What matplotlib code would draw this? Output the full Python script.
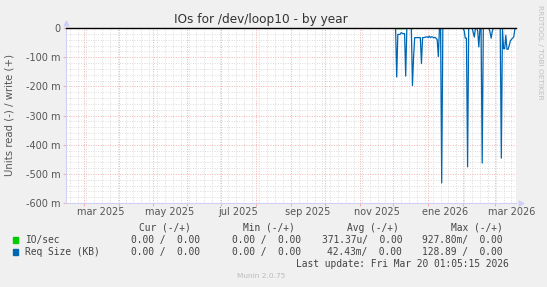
import matplotlib
matplotlib.use('Agg')
import matplotlib.pyplot as plt
import matplotlib.dates as mdates
from matplotlib.ticker import FixedLocator, FuncFormatter
from datetime import datetime, timedelta

# data window (munin "by year" = last 400 days)
t_end = datetime(2026, 3, 20, 1, 5, 15)
t_start = t_end - timedelta(days=400)

# daily samples starting 2025-12-01 (values in milli-units, read side => negative)
series_start = datetime(2025, 12, 1)
req_size = [0, 0, 0, -168, -22, -22, -22, -16, -18, -20,
            -19, -165, 0, 0, 0, 0, 0, -197, -100, -33,
            -33, -33, -33, -33, -33, -122, -33, -33, -32, -31,
            -30, -33, -28, -33, -30, -31, -34, -32, -35, -40,
            -98, 0, 0, -531, 0, 0, 0, 0, 0, 0,
            0, 0, 0, 0, 0, 0, 0, 0, 0, 0,
            0, 0, 0, -10, -35, -35, -476, 0, 0, 0,
            0, -15, -31, 0, 0, -10, -65, 0, 0, -463,
            0, 0, 0, 0, 0, 0, -15, -35, -10, 0,
            0, 0, 0, 0, 0, 0, -446, 0, -71, -71,
            -25, -73, -73, -60, -45, -39, -35, -31, -5, 0]
io_sec = [0, 0, 0, -2, -2, -2, -2, -2, -2, -2,
          -2, 0, 0, 0, 0, 0, -2, -2, 0, 0]

month_labels = ['mar 2025', 'may 2025', 'jul 2025', 'sep 2025',
                'nov 2025', 'ene 2026', 'mar 2026']
label_dates = [datetime(2025, 3, 16), datetime(2025, 5, 16), datetime(2025, 7, 16),
               datetime(2025, 9, 16), datetime(2025, 11, 16), datetime(2026, 1, 16),
               datetime(2026, 3, 16)]

legend_names = ['IO/sec', 'Req Size (KB)']
legend_cur = ['0.00 /  0.00', '0.00 /  0.00']
legend_min = ['0.00 /  0.00', '0.00 /  0.00']
legend_avg = ['371.37u/  0.00', '42.43m/  0.00']
legend_max = ['927.80m/  0.00', '128.89 /  0.00']

GREEN = '#00CC00'
BLUE = '#0066B3'
BG = '#F0F0F0'
W, H = 547, 287

fig = plt.figure(figsize=(W / 100, H / 100), dpi=100, facecolor=BG)
ax = fig.add_axes([66 / W, (H - 203) / H, 450 / W, 175 / H])
ax.set_facecolor('white')

req_dates = [series_start + timedelta(days=i) for i in range(len(req_size))]
io_dates = [series_start + timedelta(days=i) for i in range(len(io_sec))]
ax.plot(io_dates, io_sec, color=GREEN, lw=1.0, zorder=3)
ax.plot(req_dates, req_size, color=BLUE, lw=0.9, zorder=4)
ax.axhline(0, color='black', lw=1.0, zorder=5, clip_on=False)

ax.set_xlim(t_start, t_end)
ax.set_ylim(-600, 0)

# grid: minor weekly / 20m gray dotted, major monthly / 100m red dotted
month_starts = []
d = datetime(2025, 3, 1)
while d < t_end:
    month_starts.append(d)
    d = datetime(d.year + (d.month == 12), d.month % 12 + 1, 1)
ax.xaxis.set_major_locator(FixedLocator(mdates.date2num(month_starts)))
ax.xaxis.set_minor_locator(mdates.WeekdayLocator(byweekday=mdates.MO))
ax.yaxis.set_major_locator(FixedLocator(range(-600, 1, 100)))
ax.yaxis.set_minor_locator(FixedLocator(range(-600, 1, 20)))
ax.grid(which='minor', color='#DCDCDC', lw=0.7, linestyle=(0, (1, 1.5)))
ax.grid(which='major', color='#F4B0B0', lw=0.7, linestyle=(0, (1, 1.5)))
ax.set_axisbelow(True)

ax.set_xticklabels([])
ax.tick_params(axis='x', which='major', length=2, color='#F4B0B0')
ax.tick_params(axis='both', which='minor', length=0)
ax.tick_params(axis='y', which='major', length=2, color='#F4B0B0',
               labelsize=7, labelcolor='#555555', pad=2)
ax.yaxis.set_major_formatter(FuncFormatter(lambda v, p: '0' if v == 0 else '%d m' % v))

for lab, dt in zip(month_labels, label_dates):
    ax.text(mdates.date2num(dt), -0.05, lab, transform=ax.get_xaxis_transform(),
            ha='center', va='center', fontsize=7, color='#555555')

for s in ['top', 'right']:
    ax.spines[s].set_visible(False)
for s in ['left', 'bottom']:
    ax.spines[s].set_color('#D0D0F4')
    ax.spines[s].set_linewidth(0.8)
ax.plot([0], [1.03], marker='^', color='#D0D0F4', ms=3.5, transform=ax.transAxes, clip_on=False)
ax.plot([1.01], [0], marker='>', color='#D0D0F4', ms=3.5, transform=ax.transAxes, clip_on=False)

fig.text(261 / W, 1 - 19 / H, 'IOs for /dev/loop10 - by year', ha='center', va='center',
         fontsize=8.7, color='#333333')
fig.text(10 / W, 1 - 115 / H, 'Units read (-) / write (+)', rotation=90,
         ha='center', va='center', fontsize=7.3, color='#555555')
fig.text(540 / W, 1 - 5 / H, 'RRDTOOL / TOBI OETIKER', rotation=270,
         ha='center', va='top', fontsize=5.3, color='#C0C0C0')

mono = 'DejaVu Sans Mono'
fs = 6.9
tc = '#444444'
def ftext(x, y, s, ha='right', **kw):
    fig.text(x / W, 1 - y / H, s, ha=ha, va='center', family=mono, fontsize=fs, color=tc, **kw)

ftext(191, 228, 'Cur (-/+)')
ftext(295, 228, 'Min (-/+)')
ftext(399, 228, 'Avg (-/+)')
ftext(503, 228, 'Max (-/+)')
for i, (name, col) in enumerate(zip(legend_names, [GREEN, BLUE])):
    y = 239.5 + i * 12.5
    fig.patches.append(plt.Rectangle((13 / W, 1 - (y + 3) / H), 5 / W, 6 / H,
                                     transform=fig.transFigure, color=col))
    ftext(25, y, name, ha='left')
    ftext(200, y, legend_cur[i])
    ftext(301, y, legend_min[i])
    ftext(402, y, legend_avg[i])
    ftext(503, y, legend_max[i])
ftext(509, 264, 'Last update: Fri Mar 20 01:05:15 2026')
fig.text(261 / W, 1 - 276 / H, 'Munin 2.0.75', ha='center', va='center',
         fontsize=5.3, color='#BBBBBB')

fig.savefig('out.png', dpi=100, facecolor=BG)
